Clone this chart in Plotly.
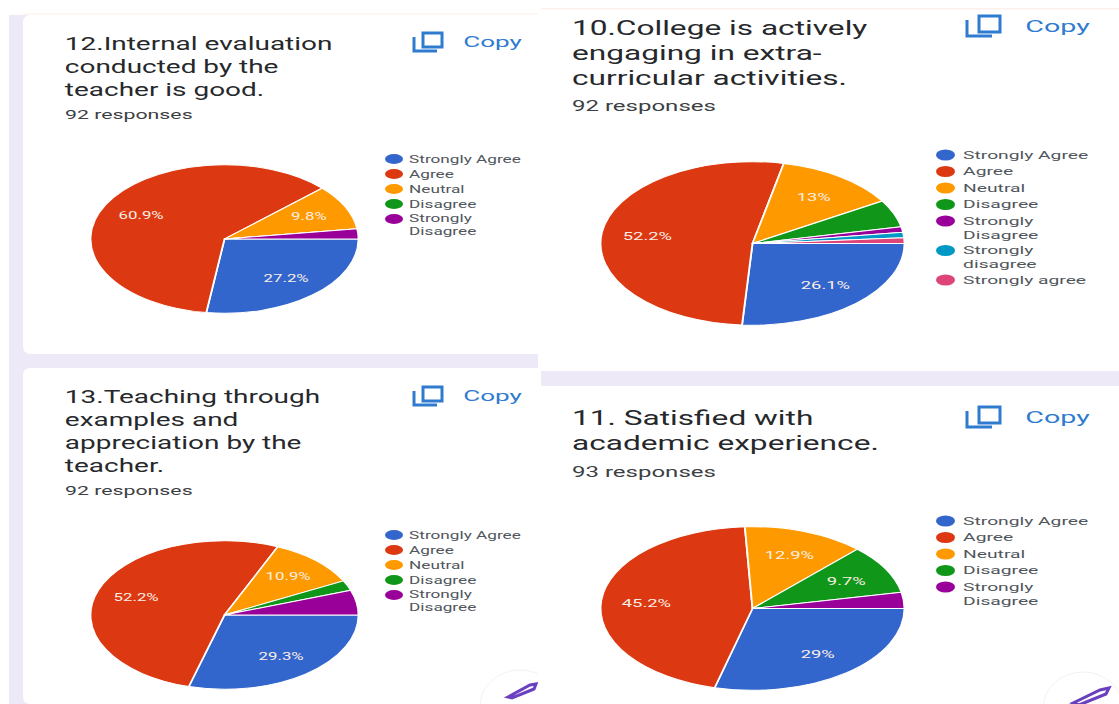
import json
import math
import plotly.graph_objects as go

W, H = 1119, 704

# ---------- data ----------
labels_five = ["Strongly Agree", "Agree", "Neutral", "Disagree", "Strongly Disagree"]
labels_seven = ["Strongly Agree", "Agree", "Neutral", "Disagree", "Strongly Disagree",
                "Strongly disagree", "Strongly agree"]
legend_five = ["Strongly Agree", "Agree", "Neutral", "Disagree", "Strongly<br>Disagree"]
legend_seven = ["Strongly Agree", "Agree", "Neutral", "Disagree", "Strongly<br>Disagree",
                "Strongly<br>disagree", "Strongly agree"]
colors = ["#3366cc", "#dc3912", "#ff9900", "#109618", "#990099", "#0099c6", "#dd4477"]

values_q12 = [27.2, 60.9, 9.8, 0, 2.2]
values_q10 = [26.1, 52.2, 13, 5.4, 1.1, 1.1, 1.1]
values_q13 = [29.3, 52.2, 10.9, 2.2, 5.4]
values_q11 = [29, 45.2, 12.9, 9.7, 3.2]

title_q12 = "12.Internal evaluation<br>conducted by the<br>teacher is good."
title_q10 = "10.College is actively<br>engaging in extra-<br>curricular activities."
title_q13 = "13.Teaching through<br>examples and<br>appreciation by the<br>teacher."
title_q11 = "11. Satisfied with<br>academic experience."

resp_q12, resp_q10, resp_q13, resp_q11 = "92 responses", "92 responses", "92 responses", "93 responses"

# ---------- layout of each card ----------
LEFT = dict(rx=134, ry=74.3, tx=62, legx=385, legtx=406, sw=18, sh=10,
            copy_x=460, icon=(414, 423, 442, 437), tsize=17.7, rsize=13, lsize=10, psize=10.5,
            step=15, wrap=12.5, st=1.58, sr=1.64, sl=1.72, sc=1.8)
RIGHT = dict(rx=152, ry=81.8, tx=569, legx=936, legtx=960, sw=19, sh=11,
             copy_x=1022, icon=(967, 979, 1000, 992), tsize=19.3, rsize=14.3, lsize=11, psize=11.5,
             step=16.5, wrap=14, st=1.64, sr=1.68, sl=1.75, sc=1.8)

panels = [
    dict(LEFT, name="Q12", values=values_q12, labels=labels_five, legend=legend_five, title=title_q12,
         resp=resp_q12, cx=224.5, cy=239, ty=67, ry_text=114.5, leg0=159, icon_y=(33, 47, 37, 51), copy_y=42),
    dict(RIGHT, name="Q10", values=values_q10, labels=labels_seven, legend=legend_seven, title=title_q10,
         resp=resp_q10, cx=752.5, cy=243.5, ty=53, ry_text=106, leg0=155, icon_y=(16, 32, 20, 36), copy_y=26),
    dict(LEFT, name="Q13", values=values_q13, labels=labels_five, legend=legend_five, title=title_q13,
         resp=resp_q13, cx=224.5, cy=615, ty=431, ry_text=490.5, leg0=535, icon_y=(387, 401, 391, 405), copy_y=396),
    dict(RIGHT, name="Q11", values=values_q11, labels=labels_five, legend=legend_five, title=title_q11,
         resp=resp_q11, cx=752.5, cy=608.5, ty=431, ry_text=472, leg0=521, icon_y=(407, 423, 411, 427), copy_y=417),
]

LAVENDER = "#ede9f7"
BLUE = "#2f7bd0"
INK = "#26282b"
INK2 = "#3c4043"
PURPLE = "#6a3fc0"


def px(x):
    return x / W


def py(y):
    return 1 - y / H


def rect(x0, y0, x1, y1, color):
    return dict(type="rect", xref="paper", yref="paper", x0=px(x0), x1=px(x1), y0=py(y0), y1=py(y1),
                fillcolor=color, line_width=0, layer="below")


def round_card(x0, y0, x1, y1, r, color):
    path = (f"M {px(x0 + r)} {py(y0)} L {px(x1)} {py(y0)} L {px(x1)} {py(y1)} L {px(x0 + r)} {py(y1)} "
            f"Q {px(x0)} {py(y1)} {px(x0)} {py(y1 - r)} L {px(x0)} {py(y0 + r)} "
            f"Q {px(x0)} {py(y0)} {px(x0 + r)} {py(y0)} Z")
    return dict(type="path", xref="paper", yref="paper", path=path, fillcolor=color, line_width=0, layer="below")


def poly(points, color, fill=None, width=3):
    d = "M " + " L ".join(f"{px(x)} {py(y)}" for x, y in points)
    if fill:
        d += " Z"
    return dict(type="path", xref="paper", yref="paper", path=d, layer="below",
                fillcolor=fill if fill else "rgba(0,0,0,0)", line=dict(color=color, width=width))


def ellipse(x0, y0, x1, y1, fill, line=None):
    return dict(type="circle", xref="paper", yref="paper", x0=px(x0), x1=px(x1), y0=py(y0), y1=py(y1),
                fillcolor=fill, line=dict(color=line or fill, width=1 if line else 0), layer="below")


shapes = [
    # left column
    rect(9, 15, 538, H, LAVENDER),
    rect(23, 13, 538, 14.5, "#fdf3f0"),
    round_card(23, 15, 538, 354, 8, "white"),
    round_card(23, 368, 538, H, 8, "white"),
    ellipse(480, 670, 560, 742, "white", "#f2f2f2"),
    poly([(508, 697), (530, 685), (536, 684), (534, 689), (512, 698)], PURPLE, fill="white"),
    # right column
    rect(538, 0, W, H, "white"),
    rect(541, 8, W, 9.5, "#fdf0ec"),
    rect(541, 371, W, 386, LAVENDER),
    ellipse(1043, 672, 1123, 745, "white", "#f2f2f2"),
    poly([(1073, 703), (1100, 690), (1109, 688), (1106, 694), (1079, 705)], PURPLE, fill="white"),
]

annotations = []
stretch = []


def add_text(text, x, y, size, color, s, anchor="left", weight=400):
    annotations.append(dict(text=text, x=px(x), y=py(y), xref="paper", yref="paper", showarrow=False,
                            xanchor=anchor, yanchor="middle", align=anchor,
                            font=dict(family="Roboto", size=size, color=color, weight=weight)))
    stretch.append([s, anchor])


traces = []
for p in panels:
    cx, cy, rx, ry = p["cx"], p["cy"], p["rx"], p["ry"]
    traces.append(go.Pie(
        name=p["name"], labels=p["labels"], values=p["values"],
        marker=dict(colors=colors, line=dict(color="white", width=1)),
        sort=False, direction="clockwise", rotation=90, textinfo="none", showlegend=False,
        domain=dict(x=[px(cx - ry), px(cx + ry)], y=[py(cy + ry), py(cy - ry)]),
    ))
    add_text(p["title"], p["tx"], p["ty"], p["tsize"], INK, p["st"])
    add_text(p["resp"], p["tx"], p["ry_text"], p["rsize"], INK2, p["sr"])

    # copy button
    ix0, ix1, ix2, ix3 = p["icon"]
    sy0, sy1, ly0, ly1 = p["icon_y"]
    shapes.append(poly([(ix1, sy0), (ix2, sy0), (ix2, sy1), (ix1, sy1)], BLUE, fill="rgba(0,0,0,0)"))
    shapes.append(poly([(ix0, ly0), (ix0, ly1), (ix3, ly1)], BLUE))
    add_text("Copy", p["copy_x"], p["copy_y"], p["lsize"] * 1.45, BLUE, p["sc"])

    # slice labels, placed along the slice's bisector
    total = sum(p["values"])
    run = 0
    for v in p["values"]:
        mid = (run + v / 2) / total * 2 * math.pi
        run += v
        if v >= 9:
            add_text(f"{v:g}%", cx + 0.7 * rx * math.cos(mid), cy + 0.7 * ry * math.sin(mid),
                     p["psize"], "#fbeee6", 1.6, anchor="center")

    # legend
    y = p["leg0"]
    for lab, col in zip(p["legend"], colors):
        shapes.append(ellipse(p["legx"], y - p["sh"] / 2, p["legx"] + p["sw"], y + p["sh"] / 2, col))
        wrapped = "<br>" in lab
        add_text(lab, p["legtx"], y + (p["wrap"] / 2 if wrapped else 0), p["lsize"], "#50565c", p["sl"])
        y += p["step"] + (p["wrap"] if wrapped else 0) - (1 if wrapped else 0)

fig = go.Figure(traces)
fig.update_layout(width=W, height=H, autosize=False, margin=dict(l=0, r=0, t=0, b=0),
                  paper_bgcolor="white", plot_bgcolor="white", shapes=shapes, annotations=annotations,
                  showlegend=False)

geom = [[p["cx"], p["cy"], p["rx"] / p["ry"]] for p in panels]
post = """
document.body.style.margin = '0';
document.documentElement.style.overflow = 'hidden';
var geom = %s, stretch = %s;
var gd = document.getElementById('{plot_id}');
function apply() {
  gd.querySelectorAll('.pielayer .trace').forEach(function (t, i) {
    var g = geom[i];
    t.setAttribute('transform', 'translate(' + g[0] + ',' + g[1] + ') scale(' + g[2] + ',1) translate(' + (-g[0]) + ',' + (-g[1]) + ')');
  });
  gd.querySelectorAll('.annotation').forEach(function (a) {
    var i = +a.getAttribute('data-index'), st = stretch[i], b = a.getBBox();
    var ax = st[1] === 'center' ? b.x + b.width / 2 : b.x;
    a.setAttribute('transform', 'translate(' + ax + ',0) scale(' + st[0] + ',1) translate(' + (-ax) + ',0)');
  });
}
apply();
""" % (json.dumps(geom), json.dumps(stretch))

fig.write_html("out.html", post_script=post, config={"displayModeBar": False})
